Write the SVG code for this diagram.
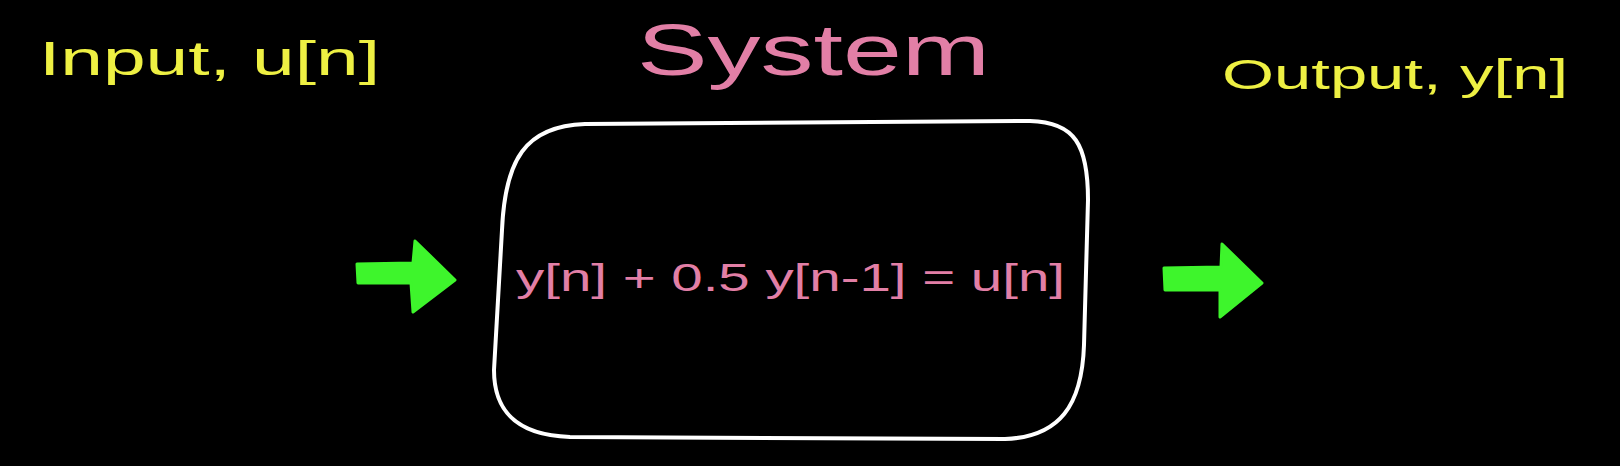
<svg xmlns="http://www.w3.org/2000/svg" width="1620" height="466" viewBox="0 0 1620 466">
<style>
.lbl{font-family:"Liberation Sans","DejaVu Sans",sans-serif;fill:#eef043}
.pink{font-family:"Liberation Sans","DejaVu Sans",sans-serif;fill:#e27fa6}
.box{fill:none;stroke:#ffffff;stroke-width:4;stroke-linejoin:round}
.arrow{fill:#3ef52c;stroke:#3ef52c;stroke-width:3;stroke-linejoin:round}
</style>
<rect width="1620" height="466" fill="#000000"/>
<g id="input-label">
<text class="lbl" x="39" y="75" font-size="48" textLength="341" lengthAdjust="spacingAndGlyphs">Input, u[n]</text>
</g>
<g id="title">
<text class="pink" x="637" y="75" font-size="72" textLength="353" lengthAdjust="spacingAndGlyphs">System</text>
</g>
<g id="output-label">
<text class="lbl" x="1222" y="89" font-size="42" textLength="346" lengthAdjust="spacingAndGlyphs">Output, y[n]</text>
</g>
<g id="system">
<path class="box" d="M 585,124 L 1030,121 C 1075,122 1088,145 1088,200 L 1084,345 C 1082,405 1060,437 1005,439 L 570,437 C 515,435 494,410 494,370 L 502,230 C 505,160 525,126 585,124 Z"/>
<text class="pink" x="516" y="291" font-size="38" textLength="549" lengthAdjust="spacingAndGlyphs">y[n] + 0.5 y[n-1] = u[n]</text>
</g>
<g id="connectors">
<polygon class="arrow" points="357,264 413,263 415,241 455,280 413,312 411,283 358,283"/>
<polygon class="arrow" points="1164,268 1221,267 1222,244 1262,283 1220,317 1220,290 1165,290"/>
</g>
</svg>
